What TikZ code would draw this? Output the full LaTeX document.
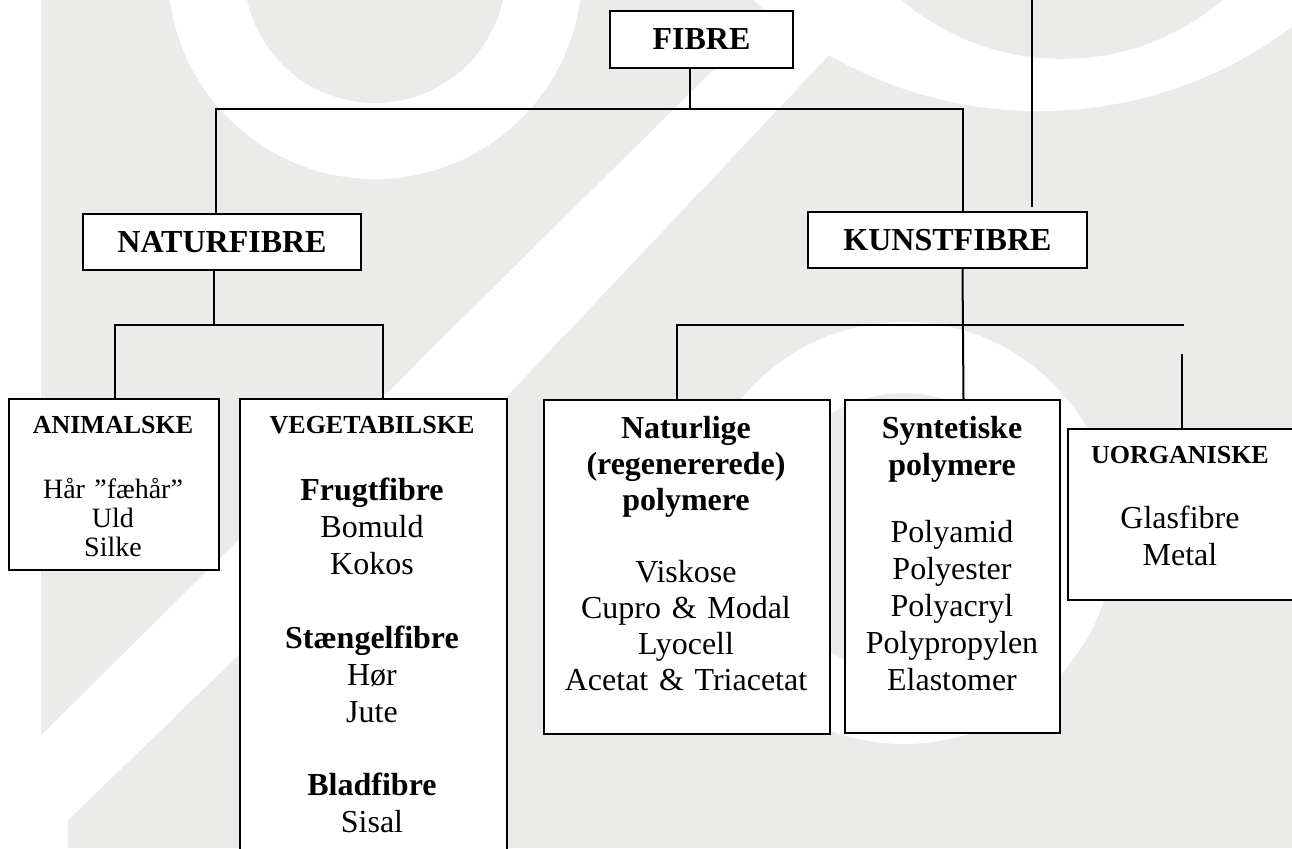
\documentclass[tikz,border=0pt]{standalone}
\usepackage{fontspec}
\setmainfont{Liberation Serif}
\definecolor{wmgray}{RGB}{235,236,233}
\tikzset{
  box/.style={draw=black, line width=1pt, fill=white, inner sep=0pt, anchor=north west},
  conn/.style={line width=1pt},
  lbl/.style={anchor=base, align=center, text width=130pt, inner sep=0pt},
  wm/.style={fill=white, draw=none},
}
\begin{document}
\begin{tikzpicture}[x=0.5pt,y=-0.5pt]
\useasboundingbox (0,0) rectangle (1292,848);
\clip (0,0) rectangle (1292,848);
% watermark background
\fill[wmgray] (0,0) rectangle (1292,848);
\fill[wm, even odd rule] (375,-28) circle[radius=103.5pt] (375,-28) circle[radius=65.5pt];
\fill[wm, even odd rule] (1039,-311) circle[radius=211pt] (1062,-190) circle[radius=124.5pt];
\fill[wm] (784,0) -- (881,0) -- (510,393) -- (68,820) -- (68,848) -- (0,848) -- (0,776) -- cycle;
\fill[wm] (0,0) rectangle (41,776);
\fill[wm, even odd rule] (904,533) circle[radius=105.5pt] (904,533) circle[radius=70pt];
% boxes
\node[box, anchor=center, minimum width=91.5pt, minimum height=28.5pt, font=\fontsize{16}{18}\selectfont\bfseries] (fibre) at (701.5,39.5) {FIBRE};
\node[box, anchor=center, minimum width=139pt, minimum height=28pt, font=\fontsize{16}{18}\selectfont\bfseries] (natur) at (222,242) {NATURFIBRE};
\node[box, anchor=center, minimum width=139.5pt, minimum height=28pt, font=\fontsize{16}{18}\selectfont\bfseries] (kunst) at (947.5,240) {KUNSTFIBRE};
\node[box, minimum width=105pt, minimum height=85.5pt] (animal) at (8,398) {};
\node[box, minimum width=133.5pt, minimum height=245pt] (veg) at (239,398) {};
\node[box, minimum width=143pt, minimum height=167pt] (natpoly) at (543,399) {};
\node[box, minimum width=107.5pt, minimum height=166.5pt] (synt) at (844,399) {};
\node[box, minimum width=120pt, minimum height=85.5pt] (uorg) at (1067,428) {};
% connectors
\coordinate (j1) at (690,109);
\draw[conn] ([xshift=-5.75pt]fibre.south) -- (j1);
\draw[conn] ([xshift=-3pt]natur.north) |- (j1) -| ([xshift=7.75pt]kunst.north);
\coordinate (j2) at (214,325);
\draw[conn] ([xshift=-4pt]natur.south) -- (j2);
\draw[conn] ([xshift=0.5pt]animal.north) |- (j2) -| ([xshift=4.75pt]veg.north);
\draw[conn] ([xshift=7.5pt]kunst.south) -- ([xshift=5.5pt]synt.north);
\coordinate (kend) at (1184,324.5);
\draw[conn] ([xshift=-5pt]natpoly.north) |- (kend);
\coordinate (utop) at (1182,354);
\draw[conn] (utop) -- (utop |- uorg.north);
\coordinate (ttop) at (1032,0);
\coordinate (tbot) at (1032,207);
\draw[conn] (ttop) -- (tbot);
% texts
\node[lbl, font=\fontsize{14}{14.5}\selectfont] (animalt) at (113,433) {{\fontsize{13}{14.5}\selectfont\bfseries ANIMALSKE}\\[18pt] Hår ”fæhår”\\ Uld\\ Silke};
\node[lbl, font=\fontsize{16}{18.5}\selectfont] (vegt) at (372,433) {{\fontsize{13}{14}\selectfont\bfseries VEGETABILSKE}\\[15pt] \textbf{Frugtfibre}\\ Bomuld\\ Kokos\\[18.5pt] \textbf{Stængelfibre}\\ Hør\\ Jute\\[18pt] \textbf{Bladfibre}\\ Sisal};
\node[lbl, font=\fontsize{16}{18}\selectfont] (natpolyt) at (686,438) {\textbf{Naturlige}\\ \textbf{(regenererede)}\\ \textbf{polymere}\\[18pt] Viskose\\ Cupro \& Modal\\ Lyocell\\ Acetat \& Triacetat};
\node[lbl, font=\fontsize{16}{18.5}\selectfont] (syntt) at (952,438) {\textbf{Syntetiske}\\ \textbf{polymere}\\[15pt] Polyamid\\ Polyester\\ Polyacryl\\ Polypropylen\\ Elastomer};
\node[lbl, font=\fontsize{16}{18.5}\selectfont] (uorgt) at (1180,463) {{\fontsize{13}{14}\selectfont\bfseries UORGANISKE}\\[14pt] Glasfibre\\ Metal};
\end{tikzpicture}
\end{document}
